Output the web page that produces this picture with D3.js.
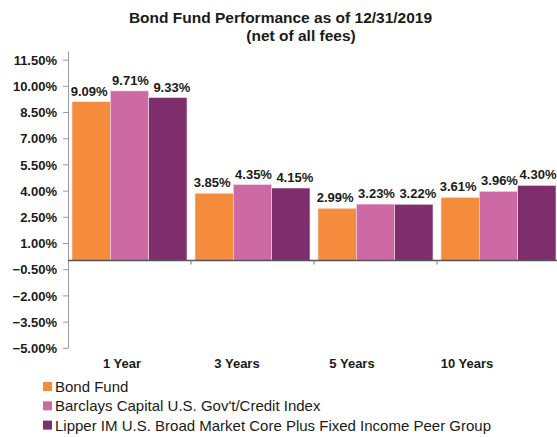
<!DOCTYPE html>
<html><head><meta charset="utf-8">
<script src="https://cdn.jsdelivr.net/npm/d3@7"></script>
<style>
html,body{margin:0;padding:0;background:#fff;}
svg{display:block;font-family:"Liberation Sans",Arial,Helvetica,sans-serif;}
</style></head>
<body>
<svg id="chart" width="557" height="437"></svg>
<script>
const categories = ["1 Year", "3 Years", "5 Years", "10 Years"];
const seriesNames = ["Bond Fund", "Barclays Capital U.S. Gov't/Credit Index", "Lipper IM U.S. Broad Market Core Plus Fixed Income Peer Group"];
const bondFund = [9.09, 3.85, 2.99, 3.61];
const barclays = [9.71, 4.35, 3.23, 3.96];
const lipper = [9.33, 4.15, 3.22, 4.30];
const yTicks = [11.5, 10.0, 8.5, 7.0, 5.5, 4.0, 2.5, 1.0, -0.5, -2.0, -3.5, -5.0];
const colors = ["#F58B3C", "#CD6AA3", "#7E2F6B"];
const seriesValues = [bondFund, barclays, lipper];

const W = 557;
const svg = d3.select("#chart");

// title
svg.append("text").attr("x", 280.5).attr("y", 23).attr("text-anchor", "middle")
  .attr("font-size", 15.5).attr("font-weight", "bold").attr("fill", "#1a1a1a")
  .text("Bond Fund Performance as of 12/31/2019");
svg.append("text").attr("x", 301).attr("y", 41).attr("text-anchor", "middle")
  .attr("font-size", 15.5).attr("font-weight", "bold").attr("fill", "#1a1a1a")
  .text("(net of all fees)");

const y = d3.scaleLinear().domain([-5, 12]).range([347.8, 50.9]);
const x0 = d3.scaleBand().domain(categories).range([68, 560]).paddingInner(0.065).paddingOuter(0.0325);
const x1 = d3.scaleBand().domain(d3.range(seriesNames.length)).range([0, x0.bandwidth()]);
const xLab = d3.scaleBand().domain(categories).range([64.5, 524.5]);

// y axis
const yAxis = d3.axisLeft(y).tickValues(yTicks).tickSize(5).tickSizeOuter(0)
  .tickFormat(d => d3.format(".2f")(d) + "%");
const gy = svg.append("g").attr("transform", "translate(68,0)").call(yAxis);
gy.select(".domain").attr("stroke", "#9a9a9a");
gy.selectAll(".tick line").attr("stroke", "#9a9a9a");
gy.selectAll(".tick text").attr("x", -11).attr("dy", "0.36em")
  .attr("font-size", 13).attr("font-weight", "bold").attr("fill", "#1a1a1a")
  .attr("font-family", "Liberation Sans, Arial, sans-serif");

// bars
const groups = svg.append("g").selectAll("g").data(categories).join("g")
  .attr("transform", d => `translate(${x0(d)},0)`);
groups.each(function(cat, ci) {
  const g = d3.select(this);
  seriesValues.forEach((vals, si) => {
    const v = vals[ci];
    g.append("rect")
      .attr("x", x1(si)).attr("width", x1.bandwidth())
      .attr("y", y(Math.max(0, v))).attr("height", Math.abs(y(v) - y(0)))
      .attr("fill", colors[si]).attr("stroke", "#f4e3ea").attr("stroke-width", 0.6);
  });
});

// value labels
const labelShift = [-2, 1, 4];
groups.each(function(cat, ci) {
  const g = d3.select(this);
  const gx = x0(cat);
  seriesValues.forEach((vals, si) => {
    const v = vals[ci];
    const t = g.append("text")
      .attr("y", y(v) - 6)
      .attr("text-anchor", "middle").attr("font-size", 13).attr("font-weight", "bold")
      .attr("fill", "#1a1a1a").text(d3.format(".2f")(v) + "%");
    let cx = x1(si) + x1.bandwidth() / 2 + labelShift[si];
    const w = t.node().getComputedTextLength();
    if (gx + cx + w / 2 > W - 0.5) cx = W - 0.5 - w / 2 - gx;
    t.attr("x", cx);
  });
});

// baseline (zero) axis with category boundary ticks
svg.append("line").attr("x1", 68).attr("x2", 557).attr("y1", y(0)).attr("y2", y(0))
  .attr("stroke", "#555").attr("stroke-width", 1.5);
categories.forEach((c, i) => {
  if (i === 0) return;
  const xb = x0(c) - x0.step() * x0.paddingInner() / 2;
  svg.append("line").attr("x1", xb).attr("x2", xb).attr("y1", y(0)).attr("y2", y(0) + 4)
    .attr("stroke", "#777").attr("stroke-width", 1);
});

// category labels
svg.append("g").selectAll("text").data(categories).join("text")
  .attr("x", d => xLab(d) + xLab.bandwidth() / 2).attr("y", 368)
  .attr("text-anchor", "middle").attr("font-size", 13).attr("font-weight", "bold")
  .attr("fill", "#1a1a1a").text(d => d);

// legend
const leg = svg.append("g").selectAll("g").data(seriesNames).join("g")
  .attr("transform", (d, i) => `translate(43,${386.5 + i * 19.3})`);
leg.append("rect").attr("x", 0).attr("y", -4.5).attr("width", 9).attr("height", 9)
  .attr("fill", (d, i) => colors[i]);
leg.append("text").attr("x", 12).attr("y", 0).attr("dy", "0.36em")
  .attr("font-size", 15).attr("fill", "#1a1a1a").text(d => d);
</script>
</body></html>
